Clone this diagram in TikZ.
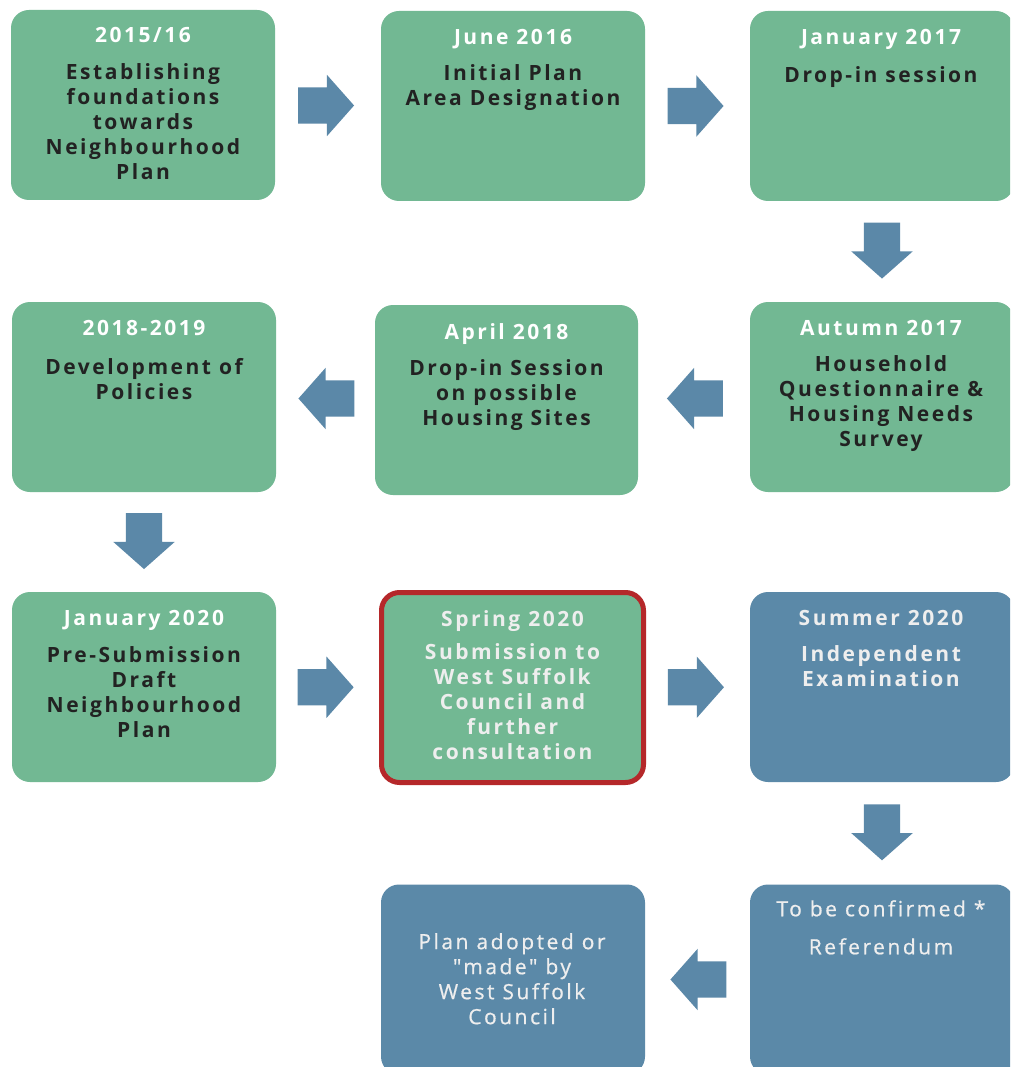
\documentclass[tikz,border=0pt]{standalone}
\usepackage{fontspec}
\setmainfont{Open Sans}[LetterSpace=12, Ligatures={NoCommon,TeXOff}]
\newfontfamily\medfont{Open Sans}[LetterSpace=12, Ligatures={NoCommon,TeXOff}, FakeBold=0.7]
\usetikzlibrary{shapes.arrows,calc}
\definecolor{boxgreen}{HTML}{72B893}
\definecolor{boxblue}{HTML}{5B89A8}
\definecolor{arrowblue}{HTML}{5B88A8}
\definecolor{hlred}{HTML}{B5282A}
\definecolor{darktext}{HTML}{222222}
\definecolor{lighttext}{HTML}{EEEEEE}
\newcommand{\hd}[1]{{\color{white}#1}}
\begin{document}
\begin{tikzpicture}[x=1pt,y=-1pt,
  stage/.style={rectangle, rounded corners=18pt, inner sep=0pt, minimum width=264pt, minimum height=190pt},
  greenstage/.style={stage, fill=boxgreen},
  bluestage/.style={stage, fill=boxblue},
  boxtext/.style={anchor=north, inner sep=0pt, align=center, text=darktext, font=\fontsize{21}{25}\selectfont\bfseries},
  lighttextstyle/.style={boxtext, text=lighttext},
  thintext/.style={lighttextstyle, font=\fontsize{21}{25}\medfont},
  barrow/.style={single arrow, fill=arrowblue, draw=none, inner sep=18pt, minimum height=56pt, minimum width=61pt, single arrow head extend=12.5pt, single arrow tip angle=97},
  toright/.style={barrow, xshift=-10pt},
  toleft/.style={barrow, shape border rotate=180, xshift=9pt},
  todown/.style={barrow, shape border rotate=270, yshift=9pt}
]
\clip (0,0) rectangle (1010,1067);
\useasboundingbox (0,0) rectangle (1010,1067);
\fill[white] (0,0) rectangle (1010,1067);

% boxes
\node[greenstage] (b1) at (143,105) {};
\node[greenstage] (b2) at (513,106) {};
\node[greenstage] (b3) at (882,106) {};
\node[greenstage] (b4) at (144,397) {};
\node[greenstage, minimum width=263pt] (b5) at (506.5,400) {};
\node[greenstage] (b6) at (882,397) {};
\node[greenstage] (b7) at (144,687) {};
\node[greenstage, draw=hlred, line width=5pt, minimum width=262pt, minimum height=190pt] (b8) at (512.5,687.5) {};
\node[bluestage] (b9) at (882,687) {};
\node[bluestage] (b10) at (513,979.5) {};
\node[bluestage] (b11) at (882,979.5) {};

% texts
\node[boxtext] (t1) at (143,27) {\hd{2015/16}\\[12pt]Establishing\\foundations\\towards\\Neighbourhood\\Plan};
\node[boxtext] (t2) at (513,29) {\hd{June 2016}\\[11pt]Initial Plan\\Area Designation};
\node[boxtext] (t3) at (881,29) {\hd{January 2017}\\[13pt]Drop-in session};
\node[boxtext] (t4) at (144,320) {\hd{2018-2019}\\[14pt]Development of\\Policies};
\node[boxtext] (t5) at (506.5,323) {\hd{April 2018}\\[11pt]Drop-in Session\\on possible\\Housing Sites};
\node[boxtext] (t6) at (881,320) {\hd{Autumn 2017}\\[11pt]Household\\Questionnaire \&\\Housing Needs\\Survey};
\node[boxtext] (t7) at (144,610) {\hd{January 2020}\\[12pt]Pre-Submission\\Draft\\Neighbourhood\\Plan};
\node[lighttextstyle] (t8) at (512.5,610) {Spring 2020\\[8pt]Submission to\\West Suffolk\\Council and\\further\\consultation};
\node[lighttextstyle] (t9) at (881,610) {Summer 2020\\[11pt]Independent\\Examination};
\node[thintext] (t10) at (512,933) {Plan adopted or\\"made" by\\West Suffolk\\Council};
\node[thintext] (t11) at (881,900) {To be confirmed *\\[13pt]Referendum};

% arrows
\node[toright] (a1) at ($(b1.east)!0.5!(b2.west)$) {};
\node[toright] (a2) at ($(b2.east)!0.5!(b3.west)$) {};
\node[todown] (a3) at ($(b3.south)!0.5!(b6.north)$) {};
\node[toleft] (a4) at ($(b6.west)!0.5!(b5.east)$) {};
\node[toleft] (a5) at ($(b5.west)!0.5!(b4.east)$) {};
\node[todown] (a6) at ($(b4.south)!0.5!(b7.north)$) {};
\node[toright] (a7) at ($(b7.east)!0.5!(b8.west)$) {};
\node[toright] (a8) at ($(b8.east)!0.5!(b9.west)$) {};
\node[todown] (a9) at ($(b9.south)!0.5!(b11.north)$) {};
\node[toleft] (a10) at ($(b11.west)!0.5!(b10.east)$) {};
\end{tikzpicture}
\end{document}
